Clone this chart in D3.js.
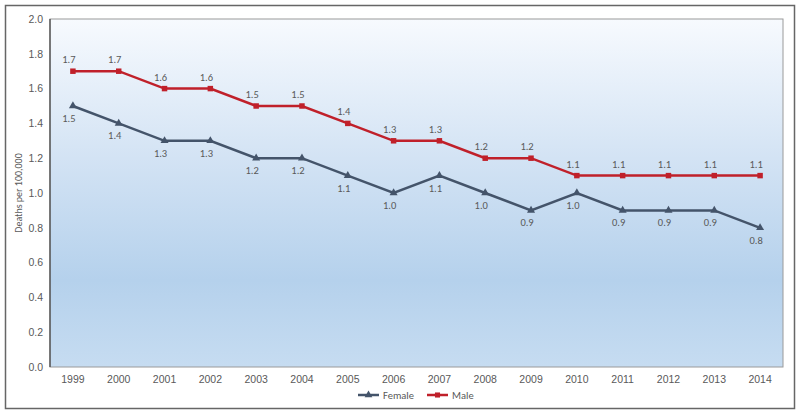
<!DOCTYPE html>
<html><head><meta charset="utf-8">
<script src="https://cdn.jsdelivr.net/npm/d3@7"></script>
<style>body{margin:0;background:#fff;}svg{display:block;font-family:Calibri,Carlito,"Open Sans",sans-serif;}</style>
</head><body><svg id="c" width="800" height="415"></svg>
<script>
const years = ["1999","2000","2001","2002","2003","2004","2005","2006","2007","2008","2009","2010","2011","2012","2013","2014"];
const female = [1.5,1.4,1.3,1.3,1.2,1.2,1.1,1.0,1.1,1.0,0.9,1.0,0.9,0.9,0.9,0.8];
const male = [1.7,1.7,1.6,1.6,1.5,1.5,1.4,1.3,1.3,1.2,1.2,1.1,1.1,1.1,1.1,1.1];
const yTicks = [0,0.2,0.4,0.6,0.8,1.0,1.2,1.4,1.6,1.8,2.0];

const svg = d3.select("#c");
const L=50,R=783,T=19,B=367;
const x = d3.scaleBand().domain(years).range([L,R]);
const y = d3.scaleLinear().domain([0,2]).range([B,T]);
const defs = svg.append("defs");
const g = defs.append("linearGradient").attr("id","bg").attr("x1",0).attr("y1",0).attr("x2",0).attr("y2",1);
g.append("stop").attr("offset","0%").attr("stop-color","#f7fafe");
g.append("stop").attr("offset","40%").attr("stop-color","#d3e3f4");
g.append("stop").attr("offset","75%").attr("stop-color","#b5d1ec");
g.append("stop").attr("offset","100%").attr("stop-color","#c6dcf1");

svg.append("rect").attr("x",5.5).attr("y",5.5).attr("width",789).attr("height",403).attr("fill","#fff").attr("stroke","#666").attr("stroke-width",1.5);
svg.append("rect").attr("x",L).attr("y",T).attr("width",R-L).attr("height",B-T).attr("fill","url(#bg)").attr("stroke","#9a9a9a").attr("stroke-width",1);
svg.append("line").attr("x1",L).attr("x2",L).attr("y1",T).attr("y2",B).attr("stroke","#404040").attr("stroke-width",1.2);

const fs = "10.5px";
const ya = svg.append("g").attr("transform",`translate(${L},0)`).call(d3.axisLeft(y).tickValues(yTicks).tickFormat(d3.format(".1f")).tickSize(0).tickPadding(7));
ya.select(".domain").remove();
ya.selectAll("text").attr("fill","#595959").style("font-size",fs);
const xa = svg.append("g").attr("transform",`translate(0,${B})`).call(d3.axisBottom(x).tickSize(0).tickPadding(9));
xa.select(".domain").remove();
xa.selectAll("text").attr("fill","#595959").style("font-size",fs);

svg.append("text").attr("transform","translate(22,193) rotate(-90)").attr("text-anchor","middle").attr("fill","#595959").style("font-size","10px").text("Deaths per 100,000");

const cx = d=>x(d)+x.bandwidth()/2;
const line = d3.line().x((d,i)=>cx(years[i])).y(d=>y(d));
const series = [
  {name:"Female",vals:female,color:"#44546a",sym:d3.symbolTriangle,dy:16},
  {name:"Male",vals:male,color:"#c0202a",sym:d3.symbolSquare,dy:-8}
];
series.forEach(s=>{
  svg.append("path").datum(s.vals).attr("d",line).attr("fill","none").attr("stroke",s.color).attr("stroke-width",2.5);
  svg.selectAll(null).data(s.vals).enter().append("path")
    .attr("d",d3.symbol().type(s.sym).size(s.sym===d3.symbolSquare?30:28))
    .attr("transform",(d,i)=>`translate(${cx(years[i])},${y(d)})`).attr("fill",s.color);
  svg.selectAll(null).data(s.vals).enter().append("text")
    .attr("x",(d,i)=>cx(years[i])-4).attr("y",d=>y(d)+s.dy).attr("text-anchor","middle")
    .attr("fill","#595959").style("font-size",fs).text(d=>d.toFixed(1));
});

const lg = svg.append("g").attr("transform","translate(358,395)");
series.forEach((s,i)=>{
  const ox = i*69;
  lg.append("line").attr("x1",ox).attr("x2",ox+21).attr("y1",0).attr("y2",0).attr("stroke",s.color).attr("stroke-width",2.5);
  lg.append("path").attr("d",d3.symbol().type(s.sym).size(26)).attr("transform",`translate(${ox+10.5},0)`).attr("fill",s.color);
  lg.append("text").attr("x",ox+25).attr("y",3.5).attr("fill","#595959").style("font-size",fs).text(s.name);
});
</script></body></html>
